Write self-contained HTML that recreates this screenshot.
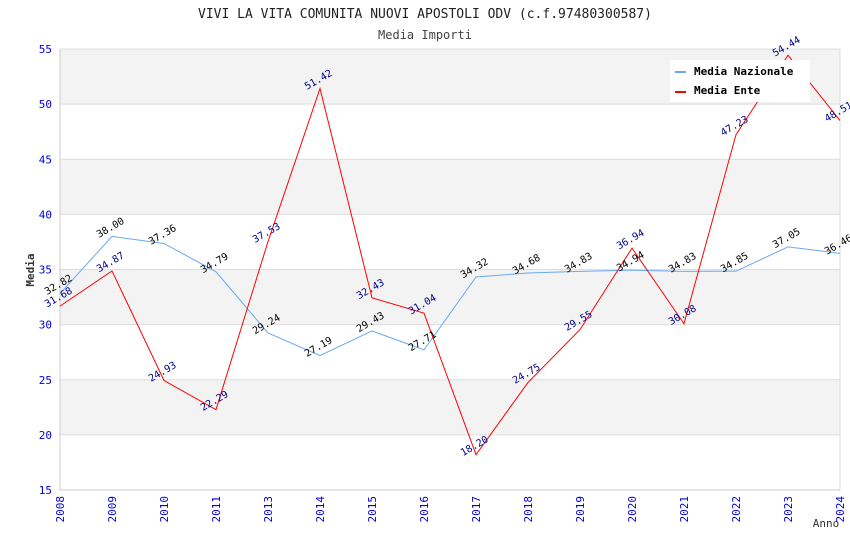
<!DOCTYPE html>
<html><head><meta charset="utf-8"><style>
body{margin:0;background:#fff;}
svg{display:block;font-family:"DejaVu Sans Mono","Liberation Mono",monospace;}
</style></head><body>
<svg id="c" width="850" height="550">
<text x="425" y="18" text-anchor="middle" font-size="13" fill="#222">VIVI LA VITA COMUNITA NUOVI APOSTOLI ODV (c.f.97480300587)</text>
<text x="425" y="39" text-anchor="middle" font-size="12" fill="#444">Media Importi</text>
<g id="bands"></g><g id="grid"></g><g id="lines"></g><g id="labels"></g><g id="ticks"></g>
<text x="34" y="270" font-size="11" font-weight="bold" fill="#333" text-anchor="middle" transform="rotate(-90 34 270)">Media</text>
<text x="826" y="527" font-size="11" fill="#333" text-anchor="middle">Anno</text>
<g>
<rect x="670" y="60" width="140" height="42" fill="#fff"/>
<rect x="675" y="71" width="11" height="2" fill="#6aa9f0"/>
<text x="694" y="75" font-size="11" font-weight="bold" fill="#000">Media Nazionale</text>
<rect x="675" y="91" width="11" height="2" fill="#ff0000"/>
<text x="694" y="94" font-size="11" font-weight="bold" fill="#000">Media Ente</text>
</g>
</svg>
<script>
const years=["2008","2009","2010","2011","2013","2014","2015","2016","2017","2018","2019","2020","2021","2022","2023","2024"];
const nazionale=[32.82,38.00,37.36,34.79,29.24,27.19,29.43,27.71,34.32,34.68,34.83,34.94,34.83,34.85,37.05,36.46];
const ente=[31.68,34.87,24.93,22.29,37.53,51.42,32.43,31.04,18.20,24.75,29.55,36.94,30.08,47.23,54.44,48.51];
const yTicks=[15,20,25,30,35,40,45,50,55];
const NS="http://www.w3.org/2000/svg";
const L=60,R=840,T=49,B=490,ymin=15,ymax=55;
const xs=i=>L+i*(R-L)/(years.length-1);
const ys=v=>B-(v-ymin)/(ymax-ymin)*(B-T);
function mk(tag,attrs,parent){const e=document.createElementNS(NS,tag);for(const k in attrs)e.setAttribute(k,attrs[k]);document.getElementById(parent).appendChild(e);return e;}
for(let i=0;i<yTicks.length-1;i++){
  if(i%2===1){const r=mk('rect',{x:L,y:ys(yTicks[i+1]),width:R-L,height:ys(yTicks[i])-ys(yTicks[i+1]),fill:'#f3f3f3'},'bands');
  
  }
}
yTicks.forEach(v=>{
  const g=mk('line',{x1:L,x2:R,y1:ys(v),y2:ys(v),stroke:'#ddd','stroke-width':1},'grid');
  
  
  const t=mk('text',{x:L-8,y:ys(v)+4,'text-anchor':'end','font-size':11,fill:'#0000dd'},'ticks');t.textContent=v;
  
  
});
const ax=mk('line',{x1:L,x2:L,y1:T,y2:B,stroke:'#ccc'},'grid');


const ax2=mk('line',{x1:R,x2:R,y1:T,y2:B,stroke:'#ddd'},'grid');


const ax3=mk('line',{x1:L,x2:R,y1:B,y2:B,stroke:'#ccc'},'grid');


years.forEach((y,i)=>{
  const x=xs(i);
  const t=mk('text',{x:x+4,y:B+6,'text-anchor':'end','font-size':11,fill:'#0000dd',transform:`rotate(-90 ${x+4} ${B+6})`},'ticks');t.textContent=y;
  
  
});
function series(arr,color,lblColor,name){
  const p=mk('polyline',{points:arr.map((v,i)=>xs(i)+','+ys(v)).join(' '),fill:'none',stroke:color,'stroke-width':1},'lines');
  
  
  arr.forEach((v,i)=>{
    const x=xs(i),y=ys(v)-6;
    const t=mk('text',{x:x,y:y,'text-anchor':'middle','font-size':10,fill:lblColor,transform:`rotate(-30 ${x} ${y})`},'labels');
    t.textContent=v.toFixed(2);
    
    
  });
}
series(nazionale,'#6aa9f0','#000','nazionale');
series(ente,'#ff0000','#000088','ente');
</script>
</body></html>
